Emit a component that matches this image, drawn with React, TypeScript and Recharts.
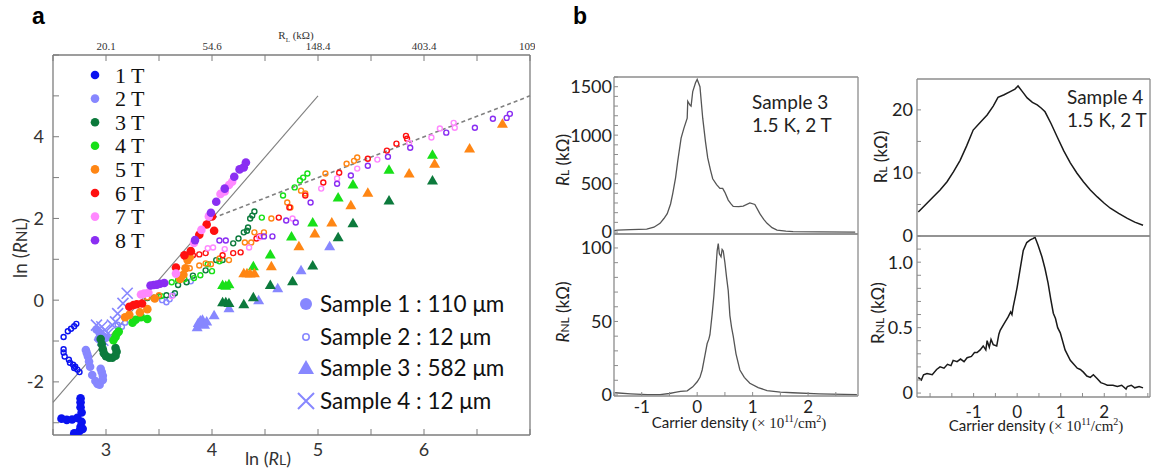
import React from 'react';
import { ScatterChart, Scatter, XAxis, YAxis, ReferenceLine, LineChart, Line } from 'recharts';

// ---------- panel a : ln(RNL) against ln(RL) ----------
const fieldNames = ['1 T', '2 T', '3 T', '4 T', '5 T', '6 T', '7 T', '8 T'];
const fieldColors = ['#0a12f0', '#8787ff', '#0c7a3c', '#18e018', '#ff8614', '#ff1010', '#ff88ff', '#8a2ef2'];
const sampleNames = ['Sample 1 : 110 μm', 'Sample 2 : 12 μm', 'Sample 3 : 582 μm', 'Sample 4 : 12 μm'];
const lnTicks = [2.5, 3, 3.5, 4, 4.5, 5, 5.5, 6, 6.5, 7];
const lnYTicks = [-3, -2, -1, 0, 1, 2, 3, 4, 5, 6];
const topTickLabels = ['20.1', '54.6', '148.4', '403.4', '1096'];

// sample 1, filled circles  [ln RL, ln RNL]
const s1_1T = [[2.58, -2.9], [2.63, -2.93], [2.68, -2.92], [2.73, -2.88], [2.76, -2.4], [2.76, -2.5], [2.76, -2.62], [2.77, -2.75], [2.77, -2.98], [2.76, -3.1], [2.75, -3.2], [2.7, -3.26], [2.78, -3.15]];
const s1_2T = [[2.81, -1.22], [2.82, -1.3], [2.83, -1.38], [2.84, -1.5], [2.85, -1.63], [2.87, -1.83], [2.9, -1.98], [2.92, -2.05], [2.94, -2.07], [2.97, -1.95], [2.97, -1.85], [2.96, -1.76], [2.95, -1.68], [2.91, -0.72], [2.94, -0.8], [2.97, -0.88], [2.93, -0.95], [3.0, -0.92]];
const s1_3T = [[2.95, -0.95], [2.96, -1.08], [2.97, -1.2], [2.98, -1.3], [3.0, -1.37], [3.03, -1.41], [3.06, -1.41], [3.09, -1.36], [3.1, -1.26], [3.09, -1.17]];
const s1_4T = [[3.07, -0.98], [3.09, -0.9], [3.1, -0.83], [3.12, -0.77], [3.25, -0.55], [3.28, -0.48], [3.33, -0.42], [3.39, -0.46]];
const s1_5T = [[3.18, -0.42], [3.22, -0.36], [3.32, -0.3], [3.39, -0.22], [3.46, 0.04], [3.7, 0.52], [3.73, 0.62], [3.75, 0.78], [3.77, 0.98], [3.79, 1.05]];
const s1_6T = [[3.22, -0.16], [3.26, -0.12], [3.29, -0.1], [3.34, -0.08], [3.66, 0.8], [3.74, 1.1], [3.8, 1.2], [3.88, 1.6], [3.95, 1.85], [4.0, 2.05], [4.02, 1.7]];
const s1_7T = [[3.33, 0.14], [3.36, 0.16], [3.4, 0.18], [3.66, 0.65], [3.83, 1.4], [3.9, 1.72], [3.97, 2.05], [4.08, 2.6], [4.12, 2.66], [4.16, 2.82], [4.19, 2.9]];
const s1_8T = [[3.42, 0.36], [3.45, 0.37], [3.48, 0.38], [3.51, 0.4], [3.55, 0.42], [3.84, 1.47], [3.99, 2.14], [4.04, 2.41], [4.12, 2.73], [4.21, 3.02], [4.26, 3.2], [4.3, 3.25], [4.32, 3.37]];

// sample 2, open circles
const s2_1T = [[2.6, -0.9], [2.64, -0.76], [2.67, -0.7], [2.7, -0.64], [2.72, -0.58], [2.6, -1.2], [2.6, -1.28], [2.61, -1.38], [2.65, -1.46], [2.66, -1.53], [2.69, -1.58], [2.71, -1.63], [2.73, -1.7], [2.75, -1.76], [2.7, -1.66]];
const s2_2T = [[3.11, -0.6], [3.15, -0.65], [3.18, -0.55], [3.53, 0.0], [3.57, -0.05], [3.6, 0.02], [3.63, 0.12], [3.8, 0.46]];
const s2_3T = [[3.39, 0.05], [3.45, 0.06], [3.5, 0.1], [3.57, 0.12], [3.65, 0.17], [3.68, 0.37], [3.76, 0.44], [3.82, 0.6], [3.94, 0.73], [4.04, 0.98], [4.1, 0.98], [4.2, 1.39], [4.25, 1.51], [4.3, 1.66], [4.33, 1.7], [4.34, 1.78], [4.36, 2.0], [4.38, 2.07], [4.4, 2.17]];
const s2_4T = [[3.52, 0.1], [3.62, 0.44], [3.68, 0.49], [3.74, 0.51], [3.83, 0.54], [3.89, 0.61], [3.96, 0.88], [4.0, 0.71], [4.07, 0.95], [4.47, 2.02], [4.67, 2.56], [4.78, 2.76], [4.83, 2.93], [4.86, 3.0], [4.9, 3.1]];
const s2_5T = [[3.39, 0.07], [3.5, 0.12], [3.79, 0.78], [3.88, 0.85], [3.94, 0.9], [3.99, 0.88], [4.07, 1.02], [4.16, 0.98], [4.31, 1.41], [4.37, 1.41], [4.4, 1.66], [4.49, 1.66], [4.56, 2.0], [4.71, 2.39], [4.74, 2.27], [4.84, 2.68], [4.88, 2.61], [5.07, 3.1], [5.27, 3.34], [5.34, 3.41], [5.37, 3.49]];
const s2_6T = [[3.75, 1.05], [3.82, 1.1], [3.88, 1.12], [3.94, 1.15], [4.1, 1.1], [4.2, 1.15], [4.27, 1.17], [4.42, 1.51], [4.45, 1.56], [4.63, 2.02], [4.73, 2.27], [4.88, 2.56], [5.05, 2.88], [5.2, 3.12], [5.47, 3.46], [5.65, 3.66], [5.74, 3.83], [5.83, 4.02], [5.84, 3.95]];
const s2_7T = [[3.62, 0.1], [3.96, 1.27], [4.01, 1.29], [4.12, 1.25], [4.35, 1.29], [4.45, 1.54], [4.76, 2.0], [5.03, 2.73], [5.18, 2.98], [5.37, 3.22], [5.56, 3.44], [5.86, 3.85], [6.07, 3.98], [6.15, 4.2], [6.28, 4.34], [6.29, 4.22]];
const s2_8T = [[4.07, 1.46], [4.13, 1.46], [4.49, 1.56], [4.57, 1.56], [4.7, 1.95], [4.79, 1.9], [4.93, 2.39], [5.18, 2.85], [5.31, 3.05], [5.47, 3.29], [5.66, 3.51], [5.87, 3.73], [6.21, 4.1], [6.48, 4.22], [6.65, 4.44], [6.78, 4.46], [6.81, 4.56]];

// sample 3, triangles
const s3_2T = [[3.86, -0.66], [3.87, -0.56], [3.89, -0.5], [3.91, -0.48], [3.93, -0.6], [3.95, -0.52], [4.02, -0.37], [4.16, -0.2], [4.44, 0.0], [4.62, 0.29], [4.84, 0.73], [5.11, 1.32]];
const s3_3T = [[4.1, -0.05], [4.13, -0.05], [4.16, -0.07], [4.3, -0.1], [4.39, 0.07], [4.55, 0.37], [4.76, 0.46], [4.95, 0.85], [5.19, 1.54], [5.33, 1.88], [5.67, 2.44], [6.08, 2.93]];
const s3_4T = [[4.1, 0.37], [4.13, 0.35], [4.16, 0.39], [4.39, 0.83], [4.55, 1.12], [4.75, 1.56], [4.95, 1.9], [5.19, 2.51], [5.33, 2.83], [5.67, 3.19], [6.08, 3.56]];
const s3_5T = [[4.3, 0.66], [4.33, 0.66], [4.36, 0.65], [4.4, 0.66], [4.56, 0.83], [4.82, 1.32], [4.97, 1.63], [5.13, 1.9], [5.31, 2.32], [5.47, 2.63], [5.86, 3.1], [6.1, 3.34], [6.43, 3.71], [6.74, 4.32]];

// sample 4, crosses
const s4_2T = [[3.2, 0.17], [3.16, -0.08], [3.11, -0.33], [3.09, -0.53], [3.06, -0.61], [2.91, -0.61], [2.96, -0.65], [2.99, -0.73], [2.94, -0.85], [3.02, -0.81], [2.97, -0.98]];

// ---------- panel b : resistance against carrier density ----------
const s3Density = [-1.5, -1.44, -1.2, -0.91, -0.78, -0.67, -0.6, -0.54, -0.48, -0.44, -0.39, -0.35, -0.29, -0.24, -0.18, -0.17, -0.13, -0.11, -0.08, -0.03, 0.0, 0.05, 0.1, 0.15, 0.19, 0.24, 0.28, 0.35, 0.41, 0.46, 0.5, 0.56, 0.61, 0.65, 0.75, 0.83, 0.95, 1.04, 1.13, 1.2, 1.26, 1.35, 1.44, 1.6, 1.73, 2.2, 2.85];
const s3RL = [15, 20, 25, 30, 50, 90, 140, 190, 290, 400, 560, 735, 970, 1070, 1175, 1350, 1310, 1300, 1450, 1540, 1575, 1500, 1175, 930, 765, 640, 550, 490, 450, 450, 410, 330, 290, 265, 262, 268, 300, 285, 190, 130, 90, 45, 20, 10, 5, 2, 0];
const s3DensityNL = [-1.48, -1.2, -0.9, -0.67, -0.5, -0.4, -0.3, -0.18, -0.08, 0.0, 0.05, 0.09, 0.14, 0.18, 0.21, 0.23, 0.27, 0.3, 0.34, 0.36, 0.38, 0.4, 0.43, 0.45, 0.47, 0.5, 0.53, 0.56, 0.59, 0.62, 0.65, 0.7, 0.77, 0.85, 0.95, 1.1, 1.26, 1.5, 1.72, 2.2, 2.88];
const s3RNL = [1.5, 0.8, 0.2, 0.3, 1, 1.8, 2.5, 2.8, 5.5, 9, 12, 17, 27, 35, 38, 41, 55, 67, 87, 98, 103, 96, 94, 99, 98, 90, 80, 71, 54, 46, 40, 28, 17, 12, 8, 5, 3, 2, 1.5, 0.8, 0.3];
const s4Density = [-2.27, -2.1, -1.93, -1.77, -1.61, -1.46, -1.31, -1.16, -1.01, -0.85, -0.69, -0.55, -0.44, -0.3, -0.16, -0.05, 0.02, 0.12, 0.23, 0.35, 0.46, 0.55, 0.64, 0.78, 0.92, 1.07, 1.22, 1.37, 1.52, 1.68, 1.84, 2.0, 2.14, 2.33, 2.53, 2.7, 2.89];
const s4RL = [3.8, 5.0, 6.2, 7.3, 8.6, 10.2, 12.0, 14.3, 16.8, 18.0, 19.2, 20.6, 22.0, 22.4, 22.9, 23.3, 23.8, 22.9, 21.9, 21.2, 20.8, 20.3, 19.7, 17.8, 15.7, 13.5, 11.6, 10.0, 8.6, 7.3, 6.2, 5.2, 4.4, 3.6, 2.8, 2.2, 1.7];
const s4DensityNL = [-2.27, -2.2, -2.15, -2.07, -1.95, -1.85, -1.77, -1.68, -1.6, -1.52, -1.47, -1.38, -1.3, -1.22, -1.15, -1.05, -0.98, -0.92, -0.85, -0.78, -0.72, -0.69, -0.64, -0.6, -0.55, -0.47, -0.42, -0.39, -0.3, -0.21, -0.15, -0.12, -0.09, -0.04, 0.0, 0.07, 0.14, 0.22, 0.3, 0.36, 0.41, 0.48, 0.57, 0.64, 0.71, 0.77, 0.83, 0.88, 0.93, 0.99, 1.1, 1.22, 1.3, 1.38, 1.45, 1.52, 1.6, 1.68, 1.75, 1.84, 1.92, 2.0, 2.07, 2.2, 2.3, 2.4, 2.5, 2.53, 2.62, 2.7, 2.8, 2.89];
const s4RNL = [0.12, 0.1, 0.14, 0.15, 0.14, 0.18, 0.2, 0.19, 0.22, 0.21, 0.25, 0.24, 0.26, 0.24, 0.27, 0.28, 0.31, 0.31, 0.33, 0.36, 0.33, 0.4, 0.35, 0.41, 0.37, 0.36, 0.45, 0.48, 0.53, 0.58, 0.62, 0.6, 0.66, 0.74, 0.81, 0.95, 1.09, 1.15, 1.17, 1.18, 1.19, 1.13, 1.04, 0.95, 0.84, 0.72, 0.61, 0.57, 0.5, 0.46, 0.33, 0.25, 0.22, 0.19, 0.18, 0.16, 0.13, 0.12, 0.14, 0.11, 0.08, 0.07, 0.06, 0.06, 0.05, 0.06, 0.03, 0.05, 0.06, 0.04, 0.05, 0.04];

const leftDensityTicks = [-1.5, -1, -0.5, 0, 0.5, 1, 1.5, 2, 2.5];
const rightDensityTicks = [-2, -1.5, -1, -0.5, 0, 0.5, 1, 1.5, 2, 2.5, 3];
const densityTickLabels = [-1, 0, 1, 2];
const s3RLTicks = [0, 100, 200, 300, 400, 500, 600, 700, 800, 900, 1000, 1100, 1200, 1300, 1400, 1500, 1600];
const s3RNLTicks = [0, 10, 20, 30, 40, 50, 60, 70, 80, 90, 100];
const s4RLTicks = [0, 5, 10, 15, 20];
const s4RNLTicks = [0, 0.1, 0.2, 0.3, 0.4, 0.5, 0.6, 0.7, 0.8, 0.9, 1.0, 1.1];

const pts = (a: number[][]) => a.map(([x, y]) => ({ x, y }));
const zip = (xs: number[], ys: number[]) => xs.map((x, i) => ({ x, y: ys[i] }));

const dot = (c: string) => (p: any) => <circle cx={p.cx} cy={p.cy} r={4.3} fill={c} />;
const ring = (c: string) => (p: any) => <circle cx={p.cx} cy={p.cy} r={2.5} fill="none" stroke={c} strokeWidth={1.4} />;
const tri = (c: string) => (p: any) => (
  <path d={`M${p.cx},${p.cy - 5.5}L${p.cx + 5.5},${p.cy + 4}L${p.cx - 5.5},${p.cy + 4}Z`} fill={c} />
);
const cross = (c: string) => (p: any) => (
  <path d={`M${p.cx - 5.5},${p.cy - 5.5}L${p.cx + 5.5},${p.cy + 5.5}M${p.cx + 5.5},${p.cy - 5.5}L${p.cx - 5.5},${p.cy + 5.5}`} stroke={c} strokeWidth={1.6} fill="none" />
);

const series = [
  { d: s2_1T, f: 0, s: ring }, { d: s2_2T, f: 1, s: ring }, { d: s2_3T, f: 2, s: ring }, { d: s2_4T, f: 3, s: ring },
  { d: s2_5T, f: 4, s: ring }, { d: s2_6T, f: 5, s: ring }, { d: s2_7T, f: 6, s: ring }, { d: s2_8T, f: 7, s: ring },
  { d: s3_2T, f: 1, s: tri }, { d: s3_3T, f: 2, s: tri }, { d: s3_4T, f: 3, s: tri }, { d: s3_5T, f: 4, s: tri },
  { d: s4_2T, f: 1, s: cross },
  { d: s1_1T, f: 0, s: dot }, { d: s1_2T, f: 1, s: dot }, { d: s1_3T, f: 2, s: dot }, { d: s1_4T, f: 3, s: dot },
  { d: s1_5T, f: 4, s: dot }, { d: s1_6T, f: 5, s: dot }, { d: s1_7T, f: 6, s: dot }, { d: s1_8T, f: 7, s: dot },
];

const frame = '#7d7d7d';
const sans = 'Lato, "Open Sans", sans-serif';
const serif = '"Liberation Serif", "DejaVu Serif", serif';

const abs = (left: number, top: number, extra: React.CSSProperties = {}): React.CSSProperties => ({
  position: 'absolute', left, top, whiteSpace: 'nowrap', lineHeight: 1, ...extra,
});
const vlabel = (cx: number, cy: number, size: number): React.CSSProperties => ({
  position: 'absolute', left: cx, top: cy, transform: 'translate(-50%, -50%) rotate(-90deg)',
  whiteSpace: 'nowrap', lineHeight: 1, fontFamily: sans, fontSize: size, color: '#222',
});

const PanelA = () => (
  <div style={{ position: 'absolute', left: 0, top: 0 }}>
    <ScatterChart width={535} height={471} margin={{ top: 0, right: 0, bottom: 0, left: 0 }}>
      <XAxis dataKey="x" type="number" domain={[2.5, 7]} ticks={lnTicks} interval={0} allowDataOverflow
        height={36} tickSize={-6} tickMargin={14} axisLine={{ stroke: frame, strokeWidth: 1.3 }} tickLine={{ stroke: frame }}
        tick={{ fontSize: 18, fill: '#333', fontFamily: sans }}
        tickFormatter={(v: number) => (Number.isInteger(v) && v < 7 ? String(v) : '')} />
      <XAxis xAxisId="top" dataKey="x" orientation="top" type="number" domain={[2.5, 7]} ticks={lnTicks} interval={0} allowDataOverflow
        height={55} tickSize={-6} tickMargin={11} axisLine={{ stroke: frame, strokeWidth: 1.3 }} tickLine={{ stroke: frame }}
        tick={{ fontSize: 11, fill: '#333', fontFamily: serif }}
        tickFormatter={(v: number) => (Number.isInteger(v) ? topTickLabels[v - 3] : '')} />
      <YAxis dataKey="y" type="number" domain={[-3.3, 6]} ticks={lnYTicks} interval={0} allowDataOverflow
        width={53} tickSize={-6} tickMargin={15} axisLine={{ stroke: frame, strokeWidth: 1.3 }} tickLine={{ stroke: frame }}
        tick={{ fontSize: 18, fill: '#333', fontFamily: sans }}
        tickFormatter={(v: number) => (v % 2 === 0 && v > -3 && v < 6 ? String(v) : '')} />
      <YAxis yAxisId="r" orientation="right" type="number" domain={[-3.3, 6]} ticks={lnYTicks} interval={0} allowDataOverflow
        width={5} tickSize={-6} tick={false} axisLine={{ stroke: frame, strokeWidth: 1.3 }} tickLine={{ stroke: frame }} />
      <ReferenceLine segment={[{ x: 2.5, y: -2.5 }, { x: 5, y: 5 }]} stroke="#808080" strokeWidth={1.1} />
      <ReferenceLine segment={[{ x: 3.95, y: 1.95 }, { x: 7, y: 5 }]} stroke="#808080" strokeWidth={1.6} strokeDasharray="4 3" />
      {series.map((s, i) => (
        <Scatter key={i} data={pts(s.d)} shape={s.s(fieldColors[s.f])} isAnimationActive={false} />
      ))}
    </ScatterChart>
    <svg width={535} height={471} style={{ position: 'absolute', left: 0, top: 0, pointerEvents: 'none' }}>
      {fieldNames.map((n, i) => (
        <g key={n}>
          <circle cx={95} cy={75 + i * 23.6} r={4.3} fill={fieldColors[i]} />
          <text x={115} y={75 + i * 23.6 + 7.5} fontFamily={serif} fontSize={22} fill="#111">{n}</text>
        </g>
      ))}
      {sampleNames.map((n, i) => {
        const cy = [304, 337, 368, 401][i];
        const c = fieldColors[1];
        return (
          <g key={n}>
            {i === 0 && <circle cx={306} cy={cy} r={6} fill={c} />}
            {i === 1 && <circle cx={306} cy={cy} r={3.2} fill="none" stroke={c} strokeWidth={1.6} />}
            {i === 2 && <path d={`M306,${cy - 8}L314,${cy + 6}L298,${cy + 6}Z`} fill={c} />}
            {i === 3 && <path d={`M298,${cy - 8}L314,${cy + 8}M314,${cy - 8}L298,${cy + 8}`} stroke={c} strokeWidth={2} />}
            <text x={320} y={cy + 8} fontFamily={sans} fontSize={22.5} fill="#111">{n}</text>
          </g>
        );
      })}
    </svg>
    <div style={abs(32, 5, { fontFamily: 'Arial, "Liberation Sans", sans-serif', fontWeight: 'bold', fontSize: 23 })}>a</div>
    <div style={abs(296, 37, { fontFamily: serif, fontSize: 11, color: '#333', transform: 'translate(-50%, -50%)' })}>
      R<sub style={{ fontSize: 7 }}>L</sub> (kΩ)
    </div>
    <div style={abs(268, 458, { fontFamily: sans, fontSize: 18, color: '#333', transform: 'translate(-50%, -50%)' })}>
      ln (<i>R</i><span style={{ fontSize: 14 }}>L</span>)
    </div>
    <div style={{ ...vlabel(19, 248, 19), color: '#333' }}>
      ln (<i>R</i><span style={{ fontSize: 15 }}>NL</span>)
    </div>
  </div>
);

type SubProps = {
  box: [number, number, number, number];
  xDomain: [number, number];
  yDomain: [number, number];
  xTicks: number[];
  yTicks: number[];
  yFmt: (v: number) => string;
  showX: boolean;
  xMargin: number;
  yMargin: number;
  data: { x: number; y: number }[];
  stroke: string;
  sw: number;
};

const Sub = ({ box, xDomain, yDomain, xTicks, yTicks, yFmt, showX, xMargin, yMargin, data, stroke, sw }: SubProps) => {
  const [x0, y0, x1, y1] = box;
  const padL = 60, padT = 6, padR = 6, padB = 30;
  const ax = { stroke: '#8c8c8c', strokeWidth: 1.3 };
  const tl = { stroke: '#8c8c8c' };
  return (
    <div style={{ position: 'absolute', left: x0 - padL, top: y0 - padT }}>
      <LineChart width={x1 - x0 + padL + padR} height={y1 - y0 + padT + padB} data={data}
        margin={{ top: 0, right: 0, bottom: 0, left: 0 }}>
        <XAxis dataKey="x" type="number" domain={xDomain} ticks={xTicks} interval={0} allowDataOverflow
          height={padB} tickSize={-4} tickMargin={xMargin} axisLine={ax} tickLine={tl}
          tick={showX ? { fontSize: 17, fill: '#222', fontFamily: sans } : false}
          tickFormatter={(v: number) => (densityTickLabels.includes(v) ? String(v) : '')} />
        <XAxis xAxisId="t" dataKey="x" orientation="top" type="number" domain={xDomain} ticks={xTicks} interval={0}
          allowDataOverflow height={padT} tickSize={-4} tick={false} axisLine={ax} tickLine={tl} />
        <YAxis type="number" domain={yDomain} ticks={yTicks} interval={0} allowDataOverflow width={padL}
          tickSize={-4} tickMargin={yMargin} axisLine={ax} tickLine={tl}
          tick={{ fontSize: 18, fill: '#222', fontFamily: sans }} tickFormatter={yFmt} />
        <YAxis yAxisId="r" orientation="right" type="number" domain={yDomain} ticks={yTicks} interval={0}
          allowDataOverflow width={padR} tickSize={-4} tick={false} axisLine={ax} tickLine={tl} />
        <Line dataKey="y" type="linear" stroke={stroke} strokeWidth={sw} dot={false} isAnimationActive={false} />
      </LineChart>
    </div>
  );
};

const xLabel = (
  <>
    <span style={{ fontFamily: sans }}>Carrier density </span>
    <span style={{ fontFamily: serif }}>(× 10<sup style={{ fontSize: 10 }}>11</sup>/cm<sup style={{ fontSize: 10 }}>2</sup>)</span>
  </>
);

const PanelB = () => (
  <>
    <Sub box={[614, 77, 858, 234]} xDomain={[-1.5, 2.9]} yDomain={[-20, 1600]} xTicks={leftDensityTicks} yTicks={s3RLTicks}
      yFmt={(v) => (v % 500 === 0 ? String(v) : '')} showX={false} xMargin={9} yMargin={6}
      data={zip(s3Density, s3RL)} stroke="#555" sw={1.3} />
    <Sub box={[614, 234, 858, 396]} xDomain={[-1.5, 2.9]} yDomain={[-0.7, 109.5]} xTicks={leftDensityTicks} yTicks={s3RNLTicks}
      yFmt={(v) => (v % 50 === 0 ? String(v) : '')} showX xMargin={9} yMargin={6}
      data={zip(s3DensityNL, s3RNL)} stroke="#555" sw={1.3} />
    <Sub box={[917, 79, 1150, 236]} xDomain={[-2.3, 3.05]} yDomain={[0, 24.9]} xTicks={rightDensityTicks} yTicks={s4RLTicks}
      yFmt={(v) => (v % 10 === 0 ? String(v) : '')} showX={false} xMargin={13} yMargin={8}
      data={zip(s4Density, s4RL)} stroke="#1a1a1a" sw={1.5} />
    <Sub box={[917, 236, 1150, 397]} xDomain={[-2.3, 3.05]} yDomain={[-0.03, 1.2]} xTicks={rightDensityTicks} yTicks={s4RNLTicks}
      yFmt={(v) => (v === 0 ? '0' : Math.abs(v - 0.5) < 1e-9 ? '0.5' : Math.abs(v - 1) < 1e-9 ? '1.0' : '')}
      showX xMargin={13} yMargin={8} data={zip(s4DensityNL, s4RNL)} stroke="#1a1a1a" sw={1.5} />

    <div style={abs(573, 5, { fontFamily: 'Arial, "Liberation Sans", sans-serif', fontWeight: 'bold', fontSize: 23 })}>b</div>
    <div style={abs(752, 92, { fontFamily: sans, fontSize: 19, color: '#222' })}>Sample 3</div>
    <div style={abs(752, 115, { fontFamily: sans, fontSize: 19, color: '#222' })}>1.5 K, 2 T</div>
    <div style={abs(1067, 87, { fontFamily: sans, fontSize: 19, color: '#222' })}>Sample 4</div>
    <div style={abs(1067, 110, { fontFamily: sans, fontSize: 19, color: '#222' })}>1.5 K, 2 T</div>

    <div style={vlabel(562, 160, 17)}><i>R</i><span style={{ fontSize: 12 }}>L</span> (kΩ)</div>
    <div style={vlabel(562, 312, 17)}><i>R</i><span style={{ fontSize: 12 }}>NL</span> (kΩ)</div>
    <div style={vlabel(880, 157, 17)}>R<span style={{ fontSize: 12 }}>L</span> (kΩ)</div>
    <div style={vlabel(877, 313, 17)}>R<span style={{ fontSize: 12 }}>NL</span> (kΩ)</div>

    <div style={abs(739, 422, { fontSize: 15, color: '#222', transform: 'translate(-50%, -50%)' })}>{xLabel}</div>
    <div style={abs(1036, 425, { fontSize: 15, color: '#222', transform: 'translate(-50%, -50%)' })}>{xLabel}</div>
  </>
);

export default function App() {
  return (
    <div style={{ position: 'absolute', left: 0, top: 0, width: 1154, height: 471, background: '#fff', overflow: 'hidden' }}>
      <PanelA />
      <PanelB />
    </div>
  );
}
